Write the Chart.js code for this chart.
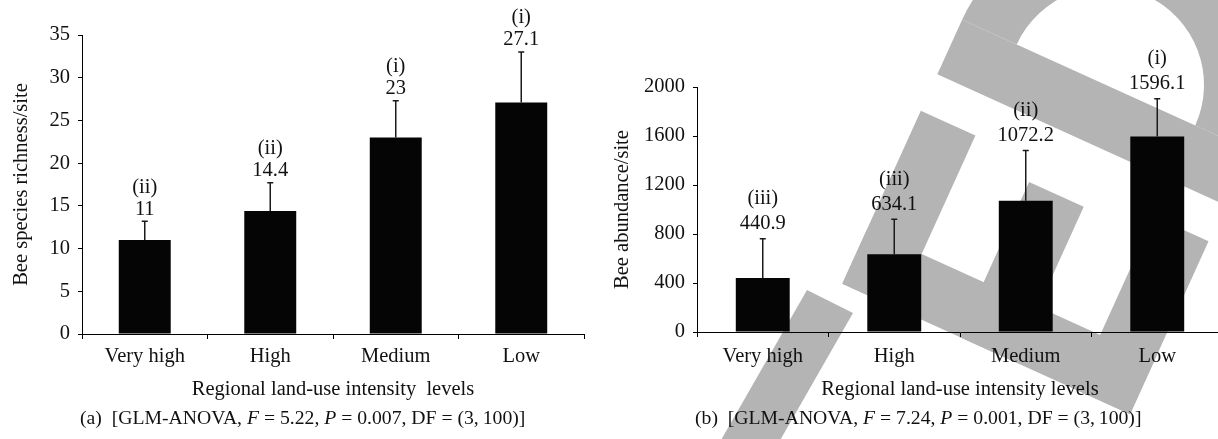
<!DOCTYPE html>
<html>
<head>
<meta charset="utf-8">
<script src="https://cdn.jsdelivr.net/npm/chart.js@4.4.1/dist/chart.umd.min.js"></script>
<style>
	html, body { margin: 0; padding: 0; background: #fff; overflow: hidden; width: 1218px; height: 439px; }
	canvas { position: absolute; top: 0; }
	#wm { left: 0; }
	#chartA { left: 0; }
	#chartB { left: 600px; }
	.cap { position: absolute; top: 406px; font: 19.7px "Liberation Serif", serif; color: #111; white-space: pre; }
	#capA { left: 80px; }
	#capB { left: 695px; }
</style>
</head>
<body>
<canvas id="wm" width="1218" height="439"></canvas>
<canvas id="chartA" width="600" height="402"></canvas>
<canvas id="chartB" width="640" height="402"></canvas>
<div class="cap" id="capA">(a)  [GLM-ANOVA, <i>F</i> = 5.22, <i>P</i> = 0.007, DF = (3,&thinsp;100)]</div>
<div class="cap" id="capB">(b)  [GLM-ANOVA, <i>F</i> = 7.24, <i>P</i> = 0.001, DF = (3,&thinsp;100)]</div>
<script>
const categories = ["Very high", "High", "Medium", "Low"];

const richness = [11, 14.4, 23, 27.1];
const richnessErr = [2.2, 3.3, 4.3, 5.9];
const richnessGroups = ["(ii)", "(ii)", "(i)", "(i)"];
const richnessTicks = [0, 5, 10, 15, 20, 25, 30, 35];

const abundance = [440.9, 634.1, 1072.2, 1596.1];
const abundanceErr = [321, 286, 409, 308];
const abundanceGroups = ["(iii)", "(iii)", "(ii)", "(i)"];
const abundanceTicks = [0, 400, 800, 1200, 1600, 2000];

const FONT = { family: "'Liberation Serif', serif", size: 20.5 };

// grey publisher stamp behind the right panel (tilted letters "E" and "D")
function drawStamp() {
	const ctx = document.getElementById("wm").getContext("2d");
	const a = 0.426;
	const cx = 1106, cy = 85;
	const ux = -Math.cos(a), uy = -Math.sin(a); // letter "up"
	const bx = Math.sin(a), by = -Math.cos(a); // reading direction
	const pt = (u, b) => [cx + u * ux + b * bx, cy + u * uy + b * by];
	const box = (u0, u1, b0, b1) => {
		const p = [pt(u0, b0), pt(u0, b1), pt(u1, b1), pt(u1, b0)];
		ctx.beginPath();
		ctx.moveTo(p[0][0], p[0][1]);
		p.slice(1).forEach((q) => ctx.lineTo(q[0], q[1]));
		ctx.closePath();
		ctx.fill();
	};
	ctx.fillStyle = "#b4b4b4";

	// D
	ctx.beginPath();
	ctx.arc(cx, cy, 158, a - Math.PI, a, false);
	ctx.arc(cx, cy, 98, a, a - Math.PI, true);
	ctx.closePath();
	ctx.fill();
	box(-300, 158, -60, 0);

	// E
	box(-158, 158, -290, -230);
	box(98, 158, -290, -100);
	box(-30, 30, -290, -120);
	box(-158, -98, -290, -100);

	// arm of the letter before
	ctx.beginPath();
	ctx.moveTo(807, 290);
	ctx.lineTo(853, 313);
	ctx.lineTo(700, 580);
	ctx.lineTo(654, 557);
	ctx.closePath();
	ctx.fill();
}

function errorPlugin(values, errors, groups, numGap, groupGap) {
	return {
		id: "errorBars",
		afterDatasetsDraw(chart) {
			const { ctx } = chart;
			const y = chart.scales.y;
			const meta = chart.getDatasetMeta(0);
			ctx.save();
			meta.data.forEach((bar, i) => {
				const top = y.getPixelForValue(values[i] + errors[i]);
				ctx.strokeStyle = "#1a1a1a";
				ctx.lineWidth = 1.5;
				ctx.beginPath();
				ctx.moveTo(bar.x, bar.y);
				ctx.lineTo(bar.x, top);
				ctx.moveTo(bar.x - 3, top);
				ctx.lineTo(bar.x + 3, top);
				ctx.stroke();

				ctx.fillStyle = "#111";
				ctx.font = FONT.size + "px " + FONT.family;
				ctx.textAlign = "center";
				ctx.textBaseline = "middle";
				ctx.fillText(String(values[i]), bar.x, top - numGap);
				ctx.fillText(groups[i], bar.x, top - groupGap);
			});
			ctx.restore();
		},
	};
}

function makeChart(id, opts) {
	new Chart(document.getElementById(id), {
		type: "bar",
		data: {
			labels: categories,
			datasets: [
				{
					data: opts.values,
					backgroundColor: "#050505",
					borderWidth: 0,
					categoryPercentage: 1,
					barPercentage: opts.barPct,
				},
			],
		},
		options: {
			responsive: false,
			animation: false,
			layout: {
				padding: { top: opts.top, right: opts.right, bottom: 0, left: 0 },
			},
			plugins: {
				legend: { display: false },
				tooltip: { enabled: false },
			},
			scales: {
				x: {
					grid: { display: true, drawOnChartArea: false, drawTicks: true, tickLength: 5, color: "#000", lineWidth: 1 },
					border: { display: true, color: "#000", width: 1 },
					ticks: { color: "#111", font: FONT, padding: opts.xPad, maxRotation: 0 },
					title: { display: true, text: opts.xTitle, color: "#111", font: FONT, padding: 0 },
					afterFit: (s) => { s.height = opts.xHeight; },
				},
				y: {
					min: 0,
					max: opts.ticks[opts.ticks.length - 1],
					afterBuildTicks: (s) => { s.ticks = opts.ticks.map((v) => ({ value: v })); },
					grid: { display: true, drawOnChartArea: false, drawTicks: true, tickLength: 4, color: "#000", lineWidth: 1 },
					border: { display: true, color: "#000", width: 1 },
					ticks: { color: "#111", font: FONT, padding: 8, callback: (v) => String(v) },
					title: { display: true, text: opts.yTitle, color: "#111", font: FONT, padding: { top: opts.yTitlePad, bottom: 0 } },
					afterFit: (s) => { s.width = opts.yWidth; },
				},
			},
		},
		plugins: [errorPlugin(opts.values, opts.errors, opts.groups, opts.numGap, opts.groupGap)],
	});
}

drawStamp();

makeChart("chartA", {
	values: richness,
	errors: richnessErr,
	groups: richnessGroups,
	ticks: richnessTicks,
	xTitle: "Regional land-use intensity  levels",
	yTitle: "Bee species richness/site",
	barPct: 0.414,
	top: 35,
	right: 16,
	xHeight: 68,
	xPad: 5.4,
	yWidth: 82,
	yTitlePad: 9,
	numGap: 12,
	groupGap: 34,
});

makeChart("chartB", {
	values: abundance,
	errors: abundanceErr,
	groups: abundanceGroups,
	ticks: abundanceTicks,
	xTitle: "Regional land-use intensity levels",
	yTitle: "Bee abundance/site",
	barPct: 0.41,
	top: 87,
	right: 17,
	xHeight: 70,
	xPad: 7.4,
	yWidth: 97,
	yTitlePad: 10.4,
	numGap: 15,
	groupGap: 40,
});
</script>
</body>
</html>
